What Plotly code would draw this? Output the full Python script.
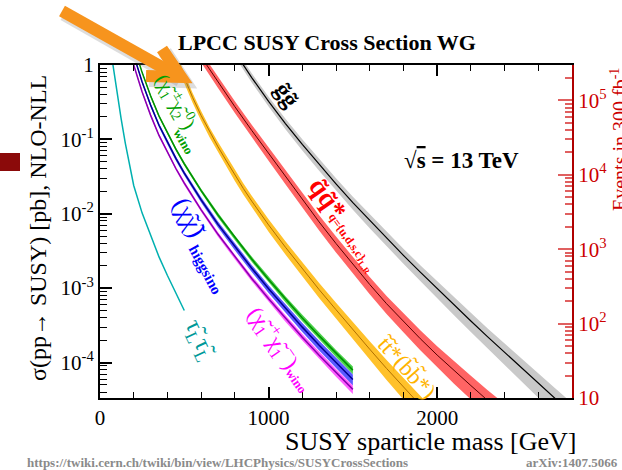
import math
import plotly.graph_objects as go

# ---------------- data ----------------
gluino_mass = [800, 900, 1000, 1100, 1200, 1300, 1400, 1500, 1600, 1700, 1800,
               1900, 2000, 2100, 2200, 2300, 2400, 2500, 2600, 2700, 2800]
gluino_xsec = [1.49, 0.677, 0.325, 0.163, 0.0856, 0.0460, 0.0253, 0.0141, 0.00810,
               0.00470, 0.00276, 0.00164, 0.000981, 0.000591, 0.000361, 0.000221,
               0.000136, 0.0000844, 0.0000523, 0.0000326, 0.0000204]
gluino_unc = [0.13, 0.14, 0.15, 0.16, 0.17, 0.18, 0.19, 0.20, 0.21, 0.22, 0.23,
              0.24, 0.26, 0.27, 0.29, 0.30, 0.32, 0.34, 0.36, 0.38, 0.40]

squark_mass = [600, 700, 800, 900, 1000, 1100, 1200, 1300, 1400, 1500, 1600,
               1700, 1800, 1900, 2000, 2100, 2200, 2300, 2400]
squark_xsec = [1.29, 0.589, 0.275, 0.132, 0.0646, 0.0316, 0.0155, 0.00776, 0.00398,
               0.00209, 0.00112, 0.000617, 0.000355, 0.000209, 0.000126, 0.0000776,
               0.0000490, 0.0000309, 0.0000200]
squark_unc = [0.16, 0.17, 0.18, 0.19, 0.20, 0.21, 0.22, 0.23, 0.24, 0.25, 0.26,
              0.27, 0.28, 0.30, 0.31, 0.33, 0.35, 0.37, 0.39]

stop_mass = [400, 450, 500, 550, 600, 650, 700, 750, 800, 850, 900, 950, 1000,
             1100, 1200, 1300, 1400, 1500, 1600, 1700, 1800, 1900, 2000]
stop_xsec = [2.40, 1.26, 0.661, 0.363, 0.209, 0.126, 0.0794, 0.0513, 0.0331, 0.0219,
             0.0148, 0.0102, 0.00708, 0.00355, 0.00182, 0.000955, 0.000513, 0.000275,
             0.000151, 0.0000832, 0.0000468, 0.0000263, 0.0000151]
stop_unc = [0.14, 0.14, 0.14, 0.15, 0.15, 0.15, 0.16, 0.16, 0.17, 0.17, 0.18, 0.18,
            0.19, 0.20, 0.21, 0.23, 0.24, 0.26, 0.28, 0.30, 0.32, 0.34, 0.36]

ewk_mass = [150, 200, 250, 300, 350, 400, 450, 500, 600, 700, 800, 900, 1000,
            1100, 1200, 1300, 1400, 1500]
c1n2_wino_xsec = [5.2, 1.81, 0.79, 0.386, 0.206, 0.121, 0.0739, 0.0469, 0.0205,
                  0.00961, 0.00477, 0.00246, 0.00131, 0.000712, 0.000398, 0.000228,
                  0.000133, 0.0000790]
c1n2_wino_unc = [0.04, 0.04, 0.04, 0.05, 0.05, 0.05, 0.05, 0.06, 0.06, 0.07, 0.07,
                 0.08, 0.08, 0.09, 0.10, 0.10, 0.11, 0.12]
higgsino_xsec = [3.9, 1.36, 0.59, 0.290, 0.155, 0.091, 0.0554, 0.0352, 0.0154,
                 0.0072, 0.00358, 0.00185, 0.00098, 0.000534, 0.000299, 0.000171,
                 0.000100, 0.0000592]
higgsino_unc = [0.05, 0.05, 0.05, 0.06, 0.06, 0.06, 0.07, 0.07, 0.08, 0.09, 0.10,
                0.11, 0.12, 0.13, 0.14, 0.15, 0.16, 0.17]
c1c1_wino_xsec = [2.86, 1.0, 0.435, 0.212, 0.113, 0.0666, 0.0406, 0.0258, 0.0113,
                  0.00529, 0.00262, 0.00135, 0.00072, 0.000392, 0.000219, 0.000125,
                  0.0000732, 0.0000435]
c1c1_wino_unc = [0.04, 0.04, 0.04, 0.05, 0.05, 0.05, 0.05, 0.06, 0.06, 0.07, 0.07,
                 0.08, 0.09, 0.10, 0.10, 0.11, 0.12, 0.13]

stau_mass = [75, 100, 125, 150, 175, 200, 250, 300, 350, 400, 450, 500]
stau_xsec = [1.07, 0.437, 0.191, 0.0891, 0.0447, 0.0240, 0.0102, 0.00501, 0.00263,
             0.00148, 0.000851, 0.000501]

x_tick_vals = [0, 1000, 2000]
y_tick_vals = [1e-4, 1e-3, 1e-2, 1e-1, 1]
y_tick_text = ["10<sup>-4</sup>", "10<sup>-3</sup>", "10<sup>-2</sup>", "10<sup>-1</sup>", "1"]
ev_tick_vals = [10, 100, 1e3, 1e4, 1e5]
ev_tick_text = ["10", "10<sup>2</sup>", "10<sup>3</sup>", "10<sup>4</sup>", "10<sup>5</sup>"]
lumi_pb = 300000.0  # 300 fb^-1 in pb^-1

SERIF = "Liberation Serif"
W, H = 622, 470
L, R, T, B = 100, 50, 65, 72
PW, PH = W - L - R, H - T - B


def px(x):
    return (x - L) / PW


def py(y):
    return (H - B - y) / PH


fig = go.Figure()


def add_band(mass, xsec, unc, fillcolor, linecolor, lw):
    up = [s * (1 + u) for s, u in zip(xsec, unc)]
    dn = [s * (1 - u) for s, u in zip(xsec, unc)]
    fig.add_trace(go.Scatter(x=list(mass) + list(mass)[::-1], y=up + dn[::-1],
                             fill="toself", fillcolor=fillcolor, mode="lines",
                             line=dict(width=0), hoverinfo="skip", showlegend=False))
    fig.add_trace(go.Scatter(x=mass, y=xsec, mode="lines",
                             line=dict(color=linecolor, width=lw), showlegend=False))


add_band(gluino_mass, gluino_xsec, gluino_unc, "#c9c9c9", "#000000", 1.2)
add_band(squark_mass, squark_xsec, squark_unc, "#ff6464", "#5a0000", 1.0)
add_band(stop_mass, stop_xsec, stop_unc, "#ffc12a", "#b07000", 1.0)
add_band(ewk_mass, c1n2_wino_xsec, c1n2_wino_unc, "#4ad24a", "#009000", 1.5)
add_band(ewk_mass, higgsino_xsec, higgsino_unc, "#5a5aff", "#000090", 1.5)
add_band(ewk_mass, c1c1_wino_xsec, c1c1_wino_unc, "#ff60ff", "#8a00b0", 1.5)
fig.add_trace(go.Scatter(x=stau_mass, y=stau_xsec, mode="lines",
                         line=dict(color="#00b0b0", width=1.5), showlegend=False))

# secondary axis (events in 300 fb^-1)
fig.add_trace(go.Scatter(x=[1000], y=[1e3], yaxis="y2", mode="markers",
                         marker=dict(opacity=0), hoverinfo="skip", showlegend=False))

minor_sigma = [k * 10 ** e for e in range(-5, 1) for k in range(2, 10)]
minor_events = [k * 10 ** e for e in range(1, 6) for k in range(2, 10)]

fig.update_layout(
    width=W, height=H, autosize=False,
    margin=dict(l=L, r=R, t=T, b=B, pad=0, autoexpand=False),
    paper_bgcolor="white", plot_bgcolor="white",
    font=dict(family=SERIF, color="black"),
    xaxis=dict(range=[0, 2800], tickvals=x_tick_vals, ticks="inside", ticklen=11,
               tickwidth=1.5, tickcolor="black", showline=True, linewidth=2,
               linecolor="black", mirror="ticks", showgrid=False, zeroline=False,
               automargin=False,
               tickfont=dict(size=21, family=SERIF, color="black"),
               minor=dict(dtick=200, ticks="inside", ticklen=6, tickwidth=1,
                          tickcolor="black", showgrid=False)),
    yaxis=dict(type="log", range=[math.log10(10 / lumi_pb), 0], tickvals=y_tick_vals,
               ticktext=y_tick_text, ticks="inside", ticklen=12, tickwidth=1.5,
               tickcolor="black", showline=True, linewidth=2, linecolor="black",
               showgrid=False, zeroline=False, automargin=False,
               tickfont=dict(size=21, family=SERIF, color="black"),
               minor=dict(tickvals=minor_sigma, ticks="inside", ticklen=7,
                          tickwidth=1, tickcolor="black", showgrid=False)),
    yaxis2=dict(type="log", overlaying="y", side="right",
                range=[1, math.log10(lumi_pb)], tickvals=ev_tick_vals,
                ticktext=ev_tick_text, ticks="inside", ticklen=14, tickwidth=1.5,
                tickcolor="#e06060", showline=True, linewidth=2, linecolor="#b00000",
                showgrid=False, zeroline=False, automargin=False,
                tickfont=dict(size=21, family=SERIF, color="#cc0000"),
                minor=dict(tickvals=minor_events, ticks="inside", ticklen=7,
                           tickwidth=1.5, tickcolor="#e06060", showgrid=False)),
)

ann = []


def label(text, mass, sigma, size, color, angle, bold=False):
    ann.append(dict(text=("<b>%s</b>" % text) if bold else text, x=mass,
                    y=math.log10(sigma), xref="x", yref="y", showarrow=False,
                    textangle=angle, font=dict(size=size, color=color, family=SERIF),
                    xanchor="center", yanchor="middle"))


label("g\u0303g\u0303", 1110, 10 ** -0.40, 24, "black", 55, bold=True)
label("q\u0303q\u0303*", 1355, 10 ** -1.80, 27, "#ff0000", 55, bold=True)
label("q={u,d,s,c}<sub>L,R</sub>", 1490, 10 ** -2.40, 12, "#ff0000", 55, bold=True)
label("t\u0303t\u0303*(b\u0303b\u0303*)", 1823, 10 ** -4.06, 23, "#ffb400", 48)
label("(\u03c7\u0303<sub>1</sub><sup>+</sup>\u03c7\u0303<sub>1</sub><sup>\u2212</sup>)",
      1030, 10 ** -3.66, 23, "#ff00ff", 55)
label("wino", 1168, 10 ** -4.25, 13, "#ff00ff", 55, bold=True)
label("(\u03c7\u0303\u03c7\u0303)", 530, 10 ** -2.05, 26, "#0000ff", 62)
label("higgsino", 627, 10 ** -2.75, 15, "#0000ff", 62, bold=True)
label("(\u03c7\u0303<sub>1</sub><sup>\u00b1</sup>\u03c7\u0303<sub>2</sub><sup>0</sup>)",
      445, 10 ** -0.50, 20, "#00a000", 60)
label("wino", 495, 10 ** -1.03, 13, "#00a000", 60, bold=True)
label("\u03c4\u0303<sub>L</sub>\u03c4\u0303<sub>L</sub>", 594, 10 ** -3.70, 25, "#009999", 65)

ann += [
    dict(text="<b>LPCC SUSY Cross Section WG</b>", x=px(327), y=py(43), xref="paper",
         yref="paper", showarrow=False, font=dict(size=22, family=SERIF, color="black"),
         xanchor="center", yanchor="middle"),
    dict(text="<b>\u221a<span style='text-decoration:overline'>s</span> = 13 TeV</b>",
         x=px(461), y=py(160), xref="paper",
         yref="paper", showarrow=False, font=dict(size=23, family=SERIF, color="black"),
         xanchor="center", yanchor="middle"),
    dict(text="\u03c3(pp\u2192 SUSY) [pb], NLO-NLL", x=px(38), y=py(228), xref="paper",
         yref="paper", showarrow=False, textangle=-90,
         font=dict(size=24, family=SERIF, color="black"),
         xanchor="center", yanchor="middle"),
    dict(text="Events in 300 fb<sup>-1</sup>", x=px(619), y=py(140), xref="paper",
         yref="paper", showarrow=False, textangle=-90,
         font=dict(size=20, family=SERIF, color="#cc0000"),
         xanchor="center", yanchor="middle"),
    dict(text="SUSY sparticle mass [GeV]", x=px(578), y=py(441), xref="paper",
         yref="paper", showarrow=False, font=dict(size=26, family=SERIF, color="black"),
         xanchor="right", yanchor="middle"),
    dict(text="<b>https://twiki.cern.ch/twiki/bin/view/LHCPhysics/SUSYCrossSections</b>",
         x=px(25), y=py(462), xref="paper", yref="paper", showarrow=False,
         font=dict(size=13, family=SERIF, color="#8a8a8a"), xanchor="left",
         yanchor="middle"),
    dict(text="<b>arXiv:1407.5066</b>", x=px(524), y=py(462), xref="paper",
         yref="paper", showarrow=False, font=dict(size=13, family=SERIF, color="#8a8a8a"),
         xanchor="left", yanchor="middle"),
]
fig.update_layout(annotations=ann)


def ppath(points):
    return "M " + " L ".join("%f,%f" % (px(a), py(b)) for a, b in points)


shapes = [
    dict(type="rect", xref="paper", yref="paper", x0=px(0), x1=px(20), y0=py(171),
         y1=py(153), fillcolor="#8b0a0a", line=dict(width=0), layer="above"),
    # arrow shadow
    dict(type="path", xref="paper", yref="paper", path=ppath([(64, 14), (180, 80)]),
         line=dict(color="rgba(120,120,120,0.25)", width=14), layer="above"),
    dict(type="path", xref="paper", yref="paper",
         path=ppath([(165, 52), (184, 81), (149, 80)]),
         line=dict(color="rgba(120,120,120,0.25)", width=14), layer="above"),
    # arrow
    dict(type="path", xref="paper", yref="paper", path=ppath([(62, 11), (176, 75)]),
         line=dict(color="#f7941d", width=12), layer="above"),
    dict(type="path", xref="paper", yref="paper",
         path=ppath([(162, 49), (181, 77), (146, 76)]),
         line=dict(color="#f7941d", width=12), layer="above"),
]
fig.update_layout(shapes=shapes)

fig.write_html("out.html", config={"displayModeBar": False},
               post_script="document.body.style.margin='0';document.body.style.padding='0';")
